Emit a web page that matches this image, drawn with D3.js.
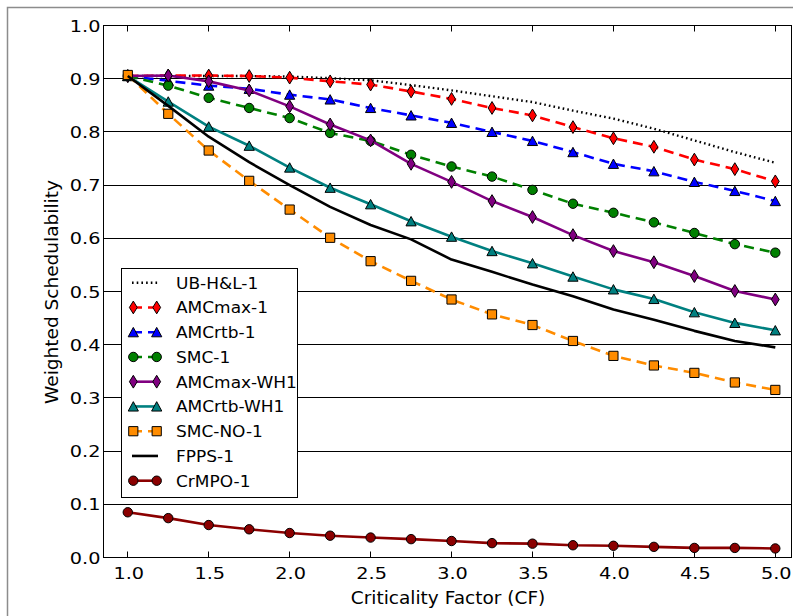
<!DOCTYPE html>
<html>
<head>
<meta charset="utf-8">
<script src="https://cdn.jsdelivr.net/npm/d3@7"></script>
<style>
  body { margin: 0; background: #fff; }
  text { font-family: "DejaVu Sans", sans-serif; fill: #000; }
</style>
</head>
<body>
<div id="chart"></div>
<script>
// criticality factor values (x)
var cf = [1.0, 1.25, 1.5, 1.75, 2.0, 2.25, 2.5, 2.75, 3.0, 3.25, 3.5, 3.75, 4.0, 4.25, 4.5, 4.75, 5.0];

var ubHL1     = [0.905, 0.905, 0.905, 0.905, 0.904, 0.901, 0.897, 0.888, 0.878, 0.867, 0.856, 0.840, 0.825, 0.806, 0.784, 0.762, 0.742];
var amcMax1   = [0.905, 0.906, 0.906, 0.905, 0.902, 0.895, 0.889, 0.876, 0.862, 0.845, 0.831, 0.809, 0.788, 0.772, 0.748, 0.730, 0.707];
var amcRtb1   = [0.905, 0.896, 0.887, 0.881, 0.870, 0.861, 0.845, 0.831, 0.817, 0.800, 0.783, 0.762, 0.740, 0.726, 0.706, 0.689, 0.670];
var smc1      = [0.905, 0.887, 0.864, 0.845, 0.826, 0.798, 0.783, 0.757, 0.735, 0.716, 0.691, 0.665, 0.648, 0.630, 0.610, 0.589, 0.573];
var amcMaxWH1 = [0.905, 0.906, 0.895, 0.878, 0.848, 0.814, 0.784, 0.740, 0.706, 0.670, 0.640, 0.606, 0.576, 0.555, 0.529, 0.501, 0.485];
var amcRtbWH1 = [0.905, 0.857, 0.810, 0.774, 0.733, 0.695, 0.664, 0.632, 0.603, 0.576, 0.553, 0.528, 0.504, 0.486, 0.461, 0.441, 0.427];
var smcNO1    = [0.907, 0.834, 0.765, 0.708, 0.654, 0.601, 0.557, 0.520, 0.485, 0.457, 0.437, 0.407, 0.379, 0.361, 0.347, 0.329, 0.315];
var fpps1     = [0.905, 0.849, 0.791, 0.743, 0.700, 0.659, 0.625, 0.598, 0.560, 0.537, 0.513, 0.491, 0.466, 0.447, 0.426, 0.407, 0.395];
var crmpo1    = [0.085, 0.074, 0.061, 0.053, 0.046, 0.041, 0.0375, 0.0345, 0.031, 0.027, 0.026, 0.023, 0.022, 0.020, 0.018, 0.018, 0.017];

var xTicks = [1.0, 1.5, 2.0, 2.5, 3.0, 3.5, 4.0, 4.5, 5.0];
var yTicks = [0.0, 0.1, 0.2, 0.3, 0.4, 0.5, 0.6, 0.7, 0.8, 0.9, 1.0];

var series = [
    { name: 'UB-H&L-1',    values: ubHL1,     color: '#000000', dash: '1.6,3.1', marker: null },
    { name: 'AMCmax-1',    values: amcMax1,   color: '#ff0000', dash: '10,6',    marker: 'diamond' },
    { name: 'AMCrtb-1',    values: amcRtb1,   color: '#0000ff', dash: '10,6',    marker: 'triangle' },
    { name: 'SMC-1',       values: smc1,      color: '#008000', dash: '10,6',    marker: 'circle' },
    { name: 'AMCmax-WH1',  values: amcMaxWH1, color: '#800080', dash: null,      marker: 'diamond' },
    { name: 'AMCrtb-WH1',  values: amcRtbWH1, color: '#008080', dash: null,      marker: 'triangle' },
    { name: 'SMC-NO-1',    values: smcNO1,    color: '#ff8c00', dash: '10,6',    marker: 'square' },
    { name: 'FPPS-1',      values: fpps1,     color: '#000000', dash: null,      marker: null },
    { name: 'CrMPO-1',     values: crmpo1,    color: '#8b0000', dash: null,      marker: 'circle' }
];

var width = 793, height = 616;
var plot = { left: 103.5, top: 25.5, right: 791.5, bottom: 557.5 };
var tickStretch = 1.17, labelStretch = 1.09;

var svg = d3.select('#chart')
    .append('svg')
    .attr('width', width)
    .attr('height', height);

// outer gray frame
svg.append('rect')
    .attr('x', 7.5)
    .attr('y', 7.5)
    .attr('width', 820)
    .attr('height', 700)
    .attr('fill', 'none')
    .attr('stroke', '#8c8c8c')
    .attr('stroke-width', 1.5);

var x = d3.scaleLinear().domain([0.85, 5.1]).range([plot.left, plot.right]);
var y = d3.scaleLinear().domain([0, 1]).range([plot.bottom, plot.top]);

// horizontal grid
svg.append('g')
    .selectAll('line')
    .data(yTicks)
    .enter()
    .append('line')
    .attr('x1', plot.left)
    .attr('x2', plot.right)
    .attr('y1', function(d) { return Math.round(y(d) - 0.5) + 0.5; })
    .attr('y2', function(d) { return Math.round(y(d) - 0.5) + 0.5; })
    .attr('stroke', '#000')
    .attr('stroke-width', 1);

// inward ticks, top and bottom / left and right
var ticks = svg.append('g').attr('stroke', '#000').attr('stroke-width', 1);
xTicks.forEach(function(t) {
    var px = Math.round(x(t) - 0.5) + 0.5;
    ticks.append('line').attr('x1', px).attr('x2', px).attr('y1', plot.bottom).attr('y2', plot.bottom - 6);
    ticks.append('line').attr('x1', px).attr('x2', px).attr('y1', plot.top).attr('y2', plot.top + 6);
});

function stretchedText(parent, tx, ty, str, size, sx, anchor, rotate) {
    var g = parent.append('g')
        .attr('transform', 'translate(' + tx + ',' + ty + ')' + (rotate ? ' rotate(' + rotate + ')' : '') + ' scale(' + sx + ',1)');
    g.append('text')
        .attr('text-anchor', anchor)
        .style('font-size', size + 'px')
        .text(str);
    return g;
}

var fmt = d3.format('.1f');
xTicks.forEach(function(t) {
    stretchedText(svg, x(t) + 1, 578.5, fmt(t), 16.5, tickStretch, 'middle');
});
yTicks.forEach(function(t) {
    stretchedText(svg, 100.5, y(t) + 6, fmt(t), 16.5, tickStretch, 'end');
});

stretchedText(svg, 448, 603.5, 'Criticality Factor (CF)', 17, labelStretch, 'middle');
stretchedText(svg, 58, 292, 'Weighted Schedulability', 17, labelStretch, 'middle', -90);

// marker shapes
function markerPath(type) {
    if (type === 'diamond') return 'M0,-6.4L3.9,0L0,6.4L-3.9,0Z';
    if (type === 'triangle') return 'M0,-4.8L5.1,4.6L-5.1,4.6Z';
    if (type === 'square') return 'M-4.6,-4.6H4.6V4.6H-4.6Z';
    if (type === 'circle') return 'M4.7,0A4.7,4.7 0 1,1 -4.7,0A4.7,4.7 0 1,1 4.7,0Z';
    return null;
}

var line = d3.line()
    .x(function(d) { return x(d[0]); })
    .y(function(d) { return y(d[1]); });

var lines = svg.append('g');
series.forEach(function(s) {
    var pts = cf.map(function(c, i) { return [c, s.values[i]]; });
    var g = lines.append('g');
    g.append('path')
        .datum(pts)
        .attr('d', line)
        .attr('fill', 'none')
        .attr('stroke', s.color)
        .attr('stroke-width', s.marker === null && s.dash ? 2.4 : 2.6)
        .attr('stroke-dasharray', s.dash)
        .attr('stroke-linejoin', 'round');
    if (s.marker) {
        g.selectAll('path.m')
            .data(pts)
            .enter()
            .append('path')
            .attr('class', 'm')
            .attr('d', markerPath(s.marker))
            .attr('transform', function(d) { return 'translate(' + x(d[0]) + ',' + y(d[1]) + ')'; })
            .attr('fill', s.color)
            .attr('stroke', '#000')
            .attr('stroke-width', 1);
    }
});

// plot frame
svg.append('rect')
    .attr('x', plot.left)
    .attr('y', plot.top)
    .attr('width', plot.right - plot.left)
    .attr('height', plot.bottom - plot.top)
    .attr('fill', 'none')
    .attr('stroke', '#000')
    .attr('stroke-width', 1);

// legend
var legend = svg.append('g');
legend.append('rect')
    .attr('x', 121.5)
    .attr('y', 268.5)
    .attr('width', 176)
    .attr('height', 229)
    .attr('fill', '#fff')
    .attr('stroke', '#000')
    .attr('stroke-width', 1);

series.forEach(function(s, i) {
    var ly = 282.7 + i * 24.75;
    var row = legend.append('g');
    row.append('line')
        .attr('x1', 132).attr('x2', 158)
        .attr('y1', ly).attr('y2', ly)
        .attr('stroke', s.color)
        .attr('stroke-width', 2.6)
        .attr('stroke-dasharray', s.dash);
    if (s.marker) {
        [133.3, 156.7].forEach(function(mx) {
            row.append('path')
                .attr('d', markerPath(s.marker))
                .attr('transform', 'translate(' + mx + ',' + ly + ')')
                .attr('fill', s.color)
                .attr('stroke', '#000')
                .attr('stroke-width', 1);
        });
    }
    stretchedText(row, 176, ly + 6, s.name, 16.5, 1.03, 'start');
});
</script>
</body>
</html>
